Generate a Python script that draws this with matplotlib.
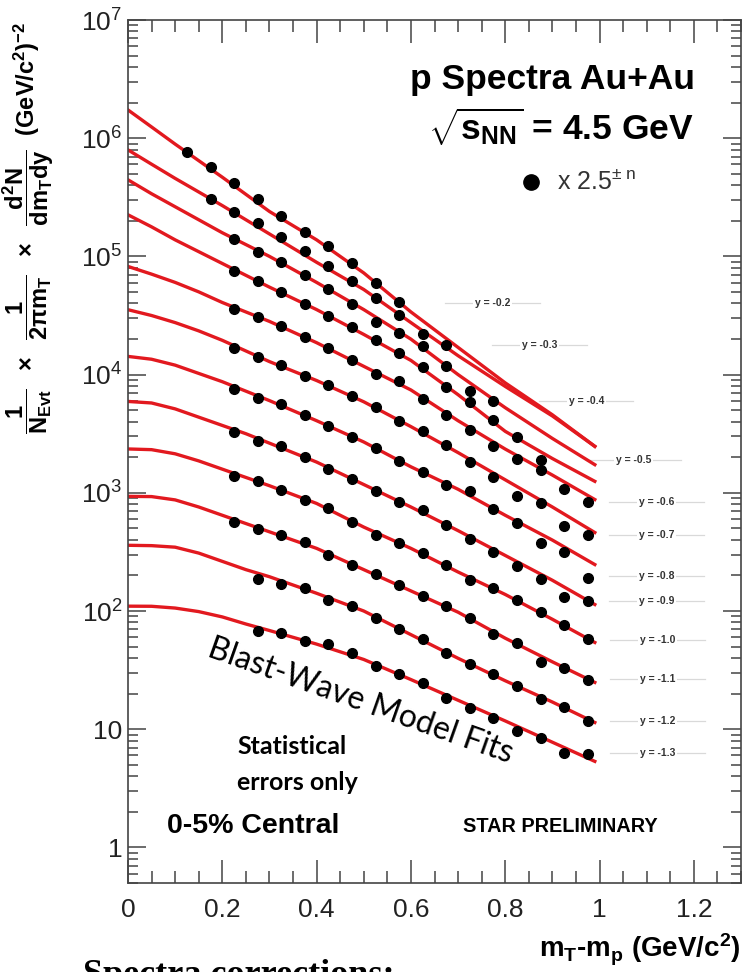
import numpy as np
import matplotlib
matplotlib.use("Agg")
import matplotlib.pyplot as plt
from matplotlib.ticker import FixedLocator, FixedFormatter, LogLocator, NullFormatter, MultipleLocator

plt.rcParams['font.family'] = ['Liberation Sans', 'DejaVu Sans']
plt.rcParams['mathtext.fontset'] = 'custom'
plt.rcParams['mathtext.rm'] = 'Liberation Sans'
plt.rcParams['mathtext.it'] = 'Liberation Sans'
plt.rcParams['mathtext.bf'] = 'Liberation Sans:bold'

# m_T - m_p bin centres (GeV/c^2)
mt_bins = [0.125, 0.175, 0.225, 0.275, 0.325, 0.375, 0.425, 0.475, 0.525,
           0.575, 0.625, 0.675, 0.725, 0.775, 0.825, 0.875, 0.925, 0.975]

rapidity = ["-0.2", "-0.3", "-0.4", "-0.5", "-0.6", "-0.7",
            "-0.8", "-0.9", "-1.0", "-1.1", "-1.2", "-1.3"]

# index of the first filled bin for each rapidity slice
first_bin = [0, 1, 2, 2, 2, 2, 2, 2, 2, 2, 3, 3]

# log10 of the scaled proton yields
spectra_log = [
    [5.882, 5.755, 5.625, 5.487, 5.343, 5.210, 5.092, 4.943, 4.779, 4.614],
    [5.487, 5.374, 5.281, 5.168, 5.047, 4.923, 4.788, 4.647, 4.506, 4.343, 4.253],
    [5.146, 5.041, 4.952, 4.844, 4.724, 4.599, 4.441, 4.352, 4.244, 4.075, 3.858, 3.779],
    [4.878, 4.788, 4.695, 4.599, 4.492, 4.399, 4.289, 4.183, 4.064, 3.892, 3.765, 3.613,
     3.469, 3.281],
    [4.554, 4.484, 4.407, 4.318, 4.225, 4.126, 4.008, 3.943, 3.796, 3.655, 3.534, 3.393,
     3.289, 3.190, 3.033, 2.920],
    [4.225, 4.145, 4.078, 3.991, 3.915, 3.822, 3.726, 3.604, 3.520, 3.407, 3.261, 3.131,
     2.970, 2.915, 2.717, 2.647],
    [3.878, 3.800, 3.754, 3.661, 3.562, 3.472, 3.380, 3.266, 3.177, 3.069, 3.013, 2.866,
     2.746, 2.577, 2.497, 2.281],
    [3.511, 3.441, 3.393, 3.300, 3.205, 3.120, 3.013, 2.920, 2.858, 2.731, 2.610, 2.497,
     2.379, 2.272, 2.120, 2.083],
    [3.145, 3.103, 3.021, 2.937, 2.872, 2.754, 2.647, 2.577, 2.490, 2.393, 2.266, 2.196,
     2.089, 1.990, 1.880, 1.760],
    [2.751, 2.695, 2.641, 2.585, 2.478, 2.387, 2.317, 2.216, 2.130, 2.041, 1.937, 1.807,
     1.732, 1.567, 1.520, 1.420],
    [2.275, 2.232, 2.196, 2.097, 2.046, 1.943, 1.844, 1.760, 1.646, 1.553, 1.463, 1.364,
     1.252, 1.187, 1.069],
    [1.835, 1.816, 1.745, 1.717, 1.647, 1.539, 1.463, 1.387, 1.266, 1.182, 1.097, 0.984,
     0.928, 0.801, 0.793],
]

# blast-wave fit curves: log10 yield at these m_T - m_p values
fit_mt = [0.0, 0.05, 0.1, 0.15, 0.2, 0.25, 0.3, 0.4, 0.5, 0.6, 0.7, 0.8, 0.9, 0.99]
fit_log = [
    [6.239, 6.095, 5.95, 5.81, 5.67, 5.525, 5.38, 5.14, 4.86, 4.53, 4.23, 3.93, 3.66, 3.393],
    [5.901, 5.78, 5.66, 5.545, 5.43, 5.31, 5.19, 4.95, 4.72, 4.44, 4.16, 3.90, 3.65, 3.393],
    [5.648, 5.53, 5.42, 5.31, 5.20, 5.10, 5.00, 4.78, 4.55, 4.30, 4.00, 3.72, 3.46, 3.238],
    [5.352, 5.25, 5.14, 5.04, 4.94, 4.84, 4.74, 4.55, 4.34, 4.12, 3.83, 3.52, 3.29, 3.097],
    [4.915, 4.85, 4.78, 4.70, 4.61, 4.53, 4.45, 4.27, 4.07, 3.87, 3.61, 3.37, 3.15, 2.943],
    [4.549, 4.50, 4.44, 4.37, 4.29, 4.20, 4.11, 3.95, 3.77, 3.56, 3.34, 3.11, 2.88, 2.664],
    [4.154, 4.13, 4.08, 4.01, 3.94, 3.86, 3.78, 3.61, 3.43, 3.22, 3.03, 2.81, 2.60, 2.393],
    [3.773, 3.76, 3.71, 3.64, 3.57, 3.50, 3.42, 3.26, 3.07, 2.88, 2.68, 2.47, 2.26, 2.055],
    [3.371, 3.365, 3.33, 3.27, 3.20, 3.13, 3.06, 2.91, 2.71, 2.53, 2.33, 2.14, 1.93, 1.734],
    [2.970, 2.968, 2.94, 2.88, 2.81, 2.74, 2.67, 2.53, 2.35, 2.17, 1.99, 1.77, 1.57, 1.396],
    [2.556, 2.553, 2.54, 2.49, 2.42, 2.35, 2.29, 2.15, 2.00, 1.80, 1.60, 1.41, 1.23, 1.057],
    [2.041, 2.040, 2.025, 1.995, 1.95, 1.89, 1.835, 1.72, 1.59, 1.42, 1.245, 1.07, 0.89, 0.728],
]

# where the rapidity tags sit (x in GeV/c^2, y as log10)
tag_x = [0.773, 0.873, 0.972, 1.072, 1.121, 1.121, 1.121, 1.121, 1.123, 1.123, 1.123, 1.123]
tag_logy = [4.610, 4.253, 3.779, 3.281, 2.923, 2.647, 2.294, 2.083, 1.751, 1.427, 1.069, 0.795]

fig = plt.figure(figsize=(7.47, 9.72), dpi=100)
ax = fig.add_axes([128 / 747, 89 / 972, 613 / 747, 863 / 972])

for fl in fit_log:
    ax.plot(fit_mt, 10 ** np.array(fl), color='#e2191f', lw=2.4, zorder=2,
            solid_joinstyle='round')

for fb, sl in zip(first_bin, spectra_log):
    ax.plot(mt_bins[fb:fb + len(sl)], 10 ** np.array(sl), 'o', color='black',
            ms=7, mec='black', zorder=3)

for tx, ty, r in zip(tag_x, tag_logy, rapidity):
    yv = 10 ** ty
    ax.plot([tx - 0.1, tx + 0.1], [yv, yv], color='#d9d9d9', lw=0.9, zorder=1)
    ax.text(tx, yv, 'y = ' + r, ha='center', va='center', fontsize=7.5,
            fontweight='bold', color='#333333', zorder=4,
            bbox=dict(boxstyle='square,pad=0.15', fc='white', ec='none'))

ax.set_xlim(0, 1.3)
ax.set_yscale('log')
ax.set_ylim(0.5, 1e7)

ax.xaxis.set_major_locator(FixedLocator([0, 0.2, 0.4, 0.6, 0.8, 1.0, 1.2]))
ax.xaxis.set_major_formatter(FixedFormatter(['0', '0.2', '0.4', '0.6', '0.8', '1', '1.2']))
ax.xaxis.set_minor_locator(MultipleLocator(0.05))

yt = [1, 10, 1e2, 1e3, 1e4, 1e5, 1e6, 1e7]
ax.yaxis.set_major_locator(FixedLocator(yt))
ax.yaxis.set_major_formatter(FixedFormatter(
    ['1', '10'] + [r'$\mathregular{10^{%d}}$' % k for k in range(2, 8)]))
ax.yaxis.set_minor_locator(LogLocator(base=10, subs=np.arange(2, 10), numticks=20))
ax.yaxis.set_minor_formatter(NullFormatter())

ax.tick_params(which='both', direction='in', top=True, right=True,
               color='#444444', width=1.1, labelcolor='#222222', labelsize=19)
ax.tick_params(axis='x', which='major', length=16.5, pad=11)
ax.tick_params(axis='x', which='minor', length=8.5)
ax.tick_params(axis='y', which='major', length=13, pad=4)
ax.tick_params(axis='y', which='minor', length=7)
for sp in ax.spines.values():
    sp.set_color('#444444')
    sp.set_linewidth(1.2)

# header block
ax.text(0.925, 0.9305, 'p Spectra Au+Au', transform=ax.transAxes, ha='right',
        va='center', fontsize=25.5, fontweight='bold')
ax.text(0.922, 0.876, r'$\sqrt{\mathbf{s}_{\mathbf{NN}}}$ = 4.5 GeV', transform=ax.transAxes,
        ha='right', va='center', fontsize=25.5, fontweight='bold')
ax.plot([0.658], [0.8127], 'o', color='black', ms=11, transform=ax.transAxes)
ax.text(0.700, 0.8127, r'x 2.5$^{\pm\ n}$', transform=ax.transAxes, ha='left',
        va='center', fontsize=18, color='#333333')

ax.text(0.492, 10 ** 1.238, 'Blast-Wave Model Fits', ha='center', va='center',
        rotation=-19.5, fontsize=23, family='Lato', rotation_mode='anchor')
ax.text(0.178, 0.158, 'Statistical', transform=ax.transAxes, ha='left', va='center',
        fontsize=18, family='Lato', fontweight='bold')
ax.text(0.178, 0.116, 'errors only', transform=ax.transAxes, ha='left', va='center',
        fontsize=18, family='Lato', fontweight='bold')
ax.text(0.0636, 0.066, '0-5% Central', transform=ax.transAxes, ha='left', va='center',
        fontsize=20.5, fontweight='bold')
ax.text(0.706, 0.066, 'STAR PRELIMINARY', transform=ax.transAxes, ha='center',
        va='center', fontsize=14.3, fontweight='bold')

ax.text(1.0, -0.0776, r'm$_{\mathbf{T}}$-m$_{\mathbf{p}}$ (GeV/c$^{\mathbf{2}}$)',
        transform=ax.transAxes, ha='right', va='center', fontsize=20, fontweight='bold')

ylab = (r'$\mathbf{\dfrac{1}{N_{Evt}}\ \ \times\ \ \dfrac{1}{2\pi m_{T}}\ \ \times\ \ '
        r'\dfrac{d^{2}N}{dm_{T}dy}}\ \ $(GeV/c$^{\mathbf{2}}$)$^{\mathbf{-2}}$')
fig.text(28 / 747, 1 - 22 / 972, ylab, rotation=90, ha='center', va='top',
         fontsize=17, fontweight='bold')

fig.text(83 / 747, -12 / 972, 'Spectra corrections:', ha='left', va='baseline',
         fontsize=26, family='Liberation Serif', fontweight='bold')

fig.savefig('out.png', dpi=100)
